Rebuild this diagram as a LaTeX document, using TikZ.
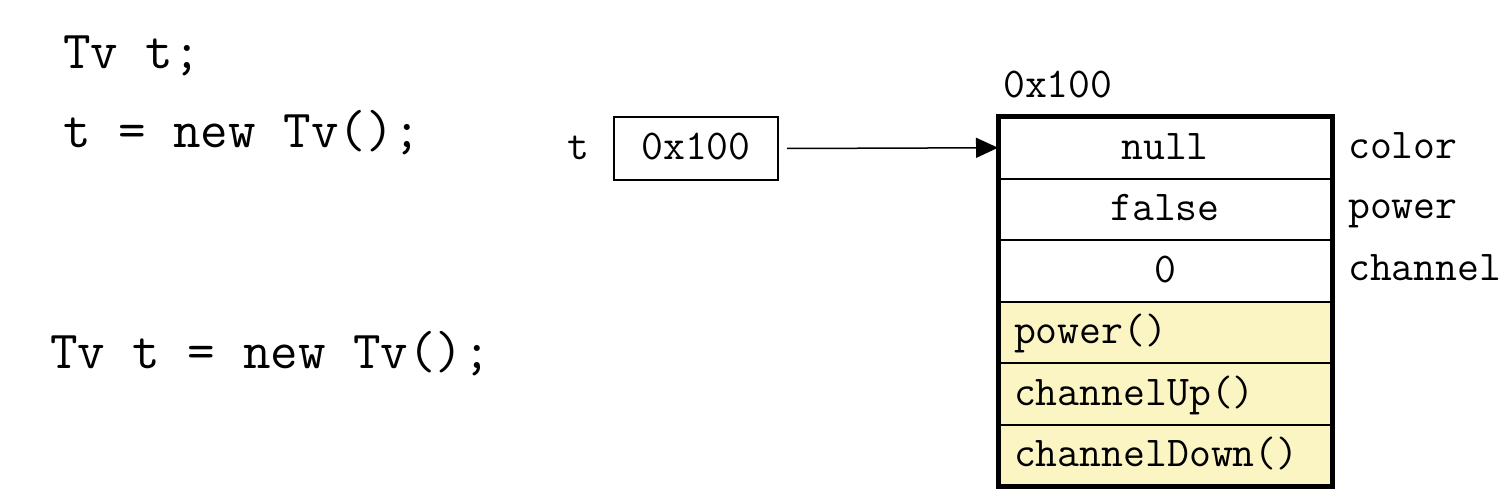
\documentclass[tikz,border=0pt]{standalone}
\usepackage{fontspec}
\usetikzlibrary{arrows.meta,positioning}
\definecolor{softyellow}{HTML}{FBF5C3}

\begin{document}
\begin{tikzpicture}[x=1pt,y=-1pt,
  code/.style={anchor=base west,inner sep=0pt,font=\ttfamily\fontsize{53.5}{53.5}\selectfont},
  lbl/.style={anchor=base west,inner sep=0pt,font=\ttfamily\fontsize{42.5}{42.5}\selectfont},
  cell/.style={draw,line width=2pt,outer sep=0pt,minimum width=334pt,minimum height=61.5pt,
    text height=27pt,text depth=4pt,font=\ttfamily\fontsize{42.5}{42.5}\selectfont},
  method/.style={cell,fill=softyellow,text width=302pt,inner xsep=16pt,align=left}]
\useasboundingbox (0,0) rectangle (1504,492);
\node[code] (decl) at (63,69) {Tv t;};
\node[code] (assign) at (63,147) {t = new Tv();};
\node[code] (both) at (50,368) {Tv t = new Tv();};
% reference variable
\node[draw,line width=2pt,minimum width=164pt,minimum height=63pt,text height=27pt,text depth=4pt,
  font=\ttfamily\fontsize{42.5}{42.5}\selectfont] (tbox) at (696,148.5) {0x100};
\node[lbl] (tname) at (567,160) {t};
% object
\node[cell] (color) at (1165,147.75) {null};
\node[cell,below=0pt of color] (power) {false};
\node[cell,below=0pt of power] (channel) {0};
\node[method,below=0pt of channel] (mpower) {power()};
\node[method,below=0pt of mpower] (mup) {channelUp()};
\node[method,below=0pt of mup] (mdown) {channelDown()};
\draw[line width=5pt] (color.north west) rectangle (mdown.south east);
\node[lbl] (addr) at (1003,98) {0x100};
\node[lbl] (fcolor) at (1348,158) {color};
\node[lbl] (fpower) at (1348,218) {power};
\node[lbl] (fchannel) at (1348,280) {channel};
\draw[-{Triangle[length=22pt,width=20pt]},line width=1.5pt] ([xshift=8pt]tbox.east) -- (color.west);
\end{tikzpicture}
\end{document}
